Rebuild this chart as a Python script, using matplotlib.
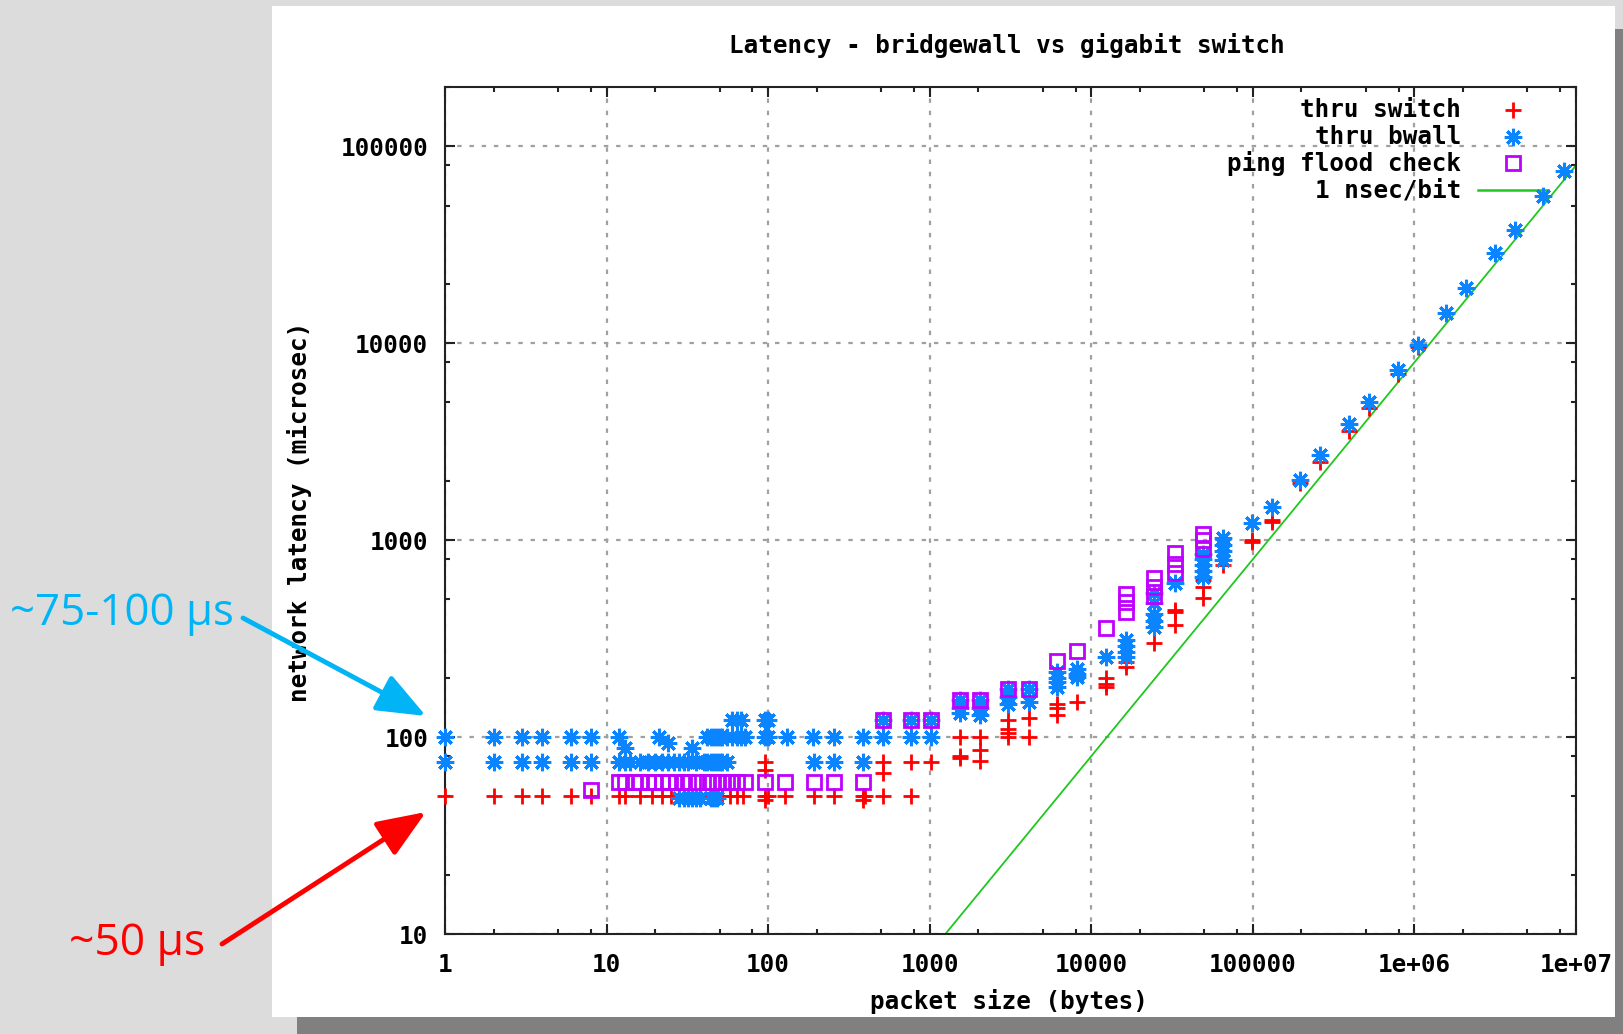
import numpy as np
import matplotlib
matplotlib.use("Agg")
import matplotlib.pyplot as plt
from matplotlib.patches import Rectangle

# ---------------- data (packet size bytes, latency microsec) ----------------
switch_pts = [
    (1, 50), (2, 50), (3, 50), (4, 50), (6, 50), (8, 50), (12, 50), (13, 50), (16, 50),
    (19, 50), (22, 50), (25, 50), (28, 50), (32, 50), (36, 50), (44, 50), (48, 50),
    (52, 50), (58, 50), (64, 50), (70, 50), (96, 50), (96, 48), (100, 50), (128, 50),
    (192, 50), (256, 50), (384, 50), (384, 48), (400, 50), (512, 50), (768, 50),
    (96, 75), (96, 68), (512, 75), (512, 66), (768, 75), (1024, 75),
    (1536, 100), (1536, 80), (1536, 78), (2048, 100), (2048, 86), (2048, 76),
    (3072, 122), (3072, 110), (3072, 105), (3072, 100), (4096, 125), (4096, 100),
    (6144, 148), (6144, 140), (6144, 130), (8192, 151),
    (12288, 199), (12288, 185), (12288, 180), (16384, 240), (16384, 227),
    (24576, 300), (32768, 442), (32768, 430), (32768, 370),
    (49152, 630), (49152, 580), (49152, 510), (65536, 750),
    (98304, 1000), (98304, 980), (131072, 1260), (131072, 1240),
    (196608, 1940), (262144, 2500), (393216, 3600), (524288, 4700),
    (786432, 7000), (1048576, 9600), (1572864, 14300),
]

bwall_pts = [
    (1, 100), (2, 100), (3, 100), (4, 100), (6, 100), (8, 100), (12, 100), (21, 100),
    (42, 100), (44, 100), (46, 100), (48, 100), (50, 100), (52, 100), (56, 100),
    (60, 100), (64, 100), (68, 100), (72, 100), (96, 100), (100, 100), (130, 100),
    (190, 100), (256, 100), (384, 100), (512, 100), (768, 100), (1024, 100),
    (1, 75), (2, 75), (3, 75), (4, 75), (6, 75), (8, 75), (12, 75), (13, 75), (14, 75),
    (16, 75), (18, 75), (20, 75), (22, 75), (24, 75), (26, 75), (28, 75), (30, 75),
    (32, 75), (36, 75), (40, 75), (42, 75), (44, 75), (46, 75), (48, 75), (50, 75),
    (52, 75), (56, 75), (192, 75), (256, 75), (384, 75),
    (13, 88), (34, 88), (24, 93),
    (28, 49), (30, 49), (32, 49), (34, 49), (36, 49), (38, 49), (44, 49), (46, 49), (48, 49),
    (60, 122), (64, 122), (68, 122), (96, 122), (100, 122), (512, 122), (768, 122), (1024, 122),
    (1536, 154), (1536, 140), (1536, 132), (2048, 154), (2048, 140), (2048, 130),
    (3072, 176), (3072, 160), (3072, 148), (4096, 176), (4096, 150),
    (6144, 215), (6144, 200), (6144, 190), (6144, 180), (8192, 222), (8192, 210), (8192, 203),
    (12288, 254), (16384, 311), (16384, 290), (16384, 270), (16384, 256),
    (24576, 537), (24576, 480), (24576, 420), (24576, 390), (24576, 363), (32768, 605),
    (49152, 855), (49152, 800), (49152, 750), (49152, 700), (49152, 650),
    (65536, 1020), (65536, 950), (65536, 880), (65536, 790),
    (98304, 1220), (131072, 1475), (196608, 2010), (262144, 2700), (393216, 3880),
    (524288, 5050), (786432, 7300), (1048576, 9800), (1572864, 14300),
    (2097152, 19100), (3145728, 28600), (4194304, 37700), (6291456, 55600), (8388608, 74500),
]

ping_pts = [
    (8, 54), (12, 59), (13, 59), (15, 59), (16, 59), (18, 59), (20, 59), (22, 59), (24, 59),
    (27, 59), (30, 59), (32, 59), (36, 59), (42, 59), (45, 59), (48, 59), (52, 59), (56, 59),
    (60, 59), (64, 59), (72, 59), (96, 59), (128, 59), (192, 59), (256, 59), (384, 59),
    (512, 122), (768, 122), (1024, 122), (1536, 154), (2048, 154), (3072, 176), (4096, 176),
    (6144, 243), (8192, 273), (12288, 356), (16384, 430), (16384, 486), (16384, 535),
    (24576, 520), (24576, 580), (24576, 640), (32768, 680), (32768, 760), (32768, 860),
    (49152, 905), (49152, 1000), (49152, 1080),
]

series_labels = ["thru switch", "thru bwall", "ping flood check", "1 nsec/bit"]
nsec_per_bit_us = 1e-3 * 8   # microseconds per byte at 1 nsec/bit

x_ticks = [1, 10, 100, 1000, 10000, 100000, 1000000, 10000000]
x_ticklabels = ["1", "10", "100", "1000", "10000", "100000", "1e+06", "1e+07"]
y_ticks = [10, 100, 1000, 10000, 100000]
y_ticklabels = ["10", "100", "1000", "10000", "100000"]

title = "Latency - bridgewall vs gigabit switch"
xlabel = "packet size (bytes)"
ylabel = "network latency (microsec)"

# ---------------- styling ----------------
W, H = 1623, 1034
RED = "#ff0000"
BLUE = "#0a84ff"
PURPLE = "#c000ff"
GREEN = "#1ec81e"
MONO = ["DejaVu Sans Mono"]
FS = 17.5

fig = plt.figure(figsize=(W / 100, H / 100), dpi=100, facecolor="#dcdcdc")

def fx(px):
    return px / W

def fy(py):
    return 1 - py / H

# drop shadow and white panel
fig.patches.append(Rectangle((fx(297), 0), fx(W - 297) + 0.01, fy(29), transform=fig.transFigure,
                             facecolor="#808080", edgecolor="none", zorder=-10))
fig.patches.append(Rectangle((fx(272), fy(1017)), fx(1615 - 272), (1017 - 6) / H,
                             transform=fig.transFigure, facecolor="white", edgecolor="none", zorder=-9))

ax = fig.add_axes([fx(445), fy(934), fx(1576 - 445), (934 - 87) / H])
ax.set_facecolor("white")
ax.set_xscale("log")
ax.set_yscale("log")
ax.set_xlim(1, 1e7)
ax.set_ylim(10, 2e5)

# 1 nsec/bit reference line
xl = np.logspace(0, 7, 400)
ax.plot(xl, xl * nsec_per_bit_us, color=GREEN, lw=1.3, zorder=2)

sx, sy = zip(*switch_pts)
bx, by = zip(*bwall_pts)
px_, py_ = zip(*ping_pts)
ax.plot(sx, sy, ls="none", marker="+", ms=11, mew=2.0, color=RED, clip_on=False, zorder=3)
ax.plot(bx, by, ls="none", marker=(8, 2, 0), ms=12.5, mew=2.2, color=BLUE, clip_on=False, zorder=4)
ax.plot(px_, py_, ls="none", marker="s", ms=10, mew=2.0, mfc="none", mec=PURPLE, clip_on=False, zorder=5)

# ticks / grid
ax.set_xticks(x_ticks)
ax.set_xticklabels(x_ticklabels)
ax.set_yticks(y_ticks)
ax.set_yticklabels(y_ticklabels)
minor_x = [m * 10 ** k for k in range(0, 7) for m in (2, 5, 8)]
minor_y = [m * 10 ** k for k in range(1, 6) for m in (2, 5, 8) if m * 10 ** k <= 2e5]
ax.set_xticks(minor_x, minor=True)
ax.set_yticks(minor_y, minor=True)
ax.tick_params(which="both", direction="in", top=True, right=True, color="#222222")
ax.tick_params(which="major", length=7.5, width=1.5, pad=12)
ax.tick_params(which="minor", length=3.8, width=1.5)
ax.tick_params(axis="x", which="major", pad=14)
ax.xaxis.set_minor_formatter(matplotlib.ticker.NullFormatter())
ax.yaxis.set_minor_formatter(matplotlib.ticker.NullFormatter())
for lab in ax.get_xticklabels() + ax.get_yticklabels():
    lab.set_fontfamily(MONO)
    lab.set_fontweight("bold")
    lab.set_fontsize(FS)
ax.grid(True, which="major", color="#a0a0a0", lw=1.6, ls=(0, (2, 3.5)))
ax.set_axisbelow(True)
for sp in ax.spines.values():
    sp.set_linewidth(1.5)
    sp.set_color("#222222")

ax.set_xlabel(xlabel, fontfamily=MONO, fontweight="bold", fontsize=FS, va="center")
ax.xaxis.set_label_coords((1009 - 445) / 1131, (934 - 1002) / 847)
ax.set_ylabel(ylabel, fontfamily=MONO, fontweight="bold", fontsize=FS, va="center")
ax.yaxis.set_label_coords((300 - 445) / 1131, (934 - 512) / 847)
fig.text(fx(1007), fy(45), title, fontfamily=MONO, fontweight="bold", fontsize=FS,
         ha="center", va="center")

# legend (gnuplot style, text right-aligned, sample to the right)
leg_rows = [(934 - 110) / 847, (934 - 137) / 847, (934 - 163) / 847, (934 - 190) / 847]
tx = (1461 - 445) / 1131
mx = (1513 - 445) / 1131
for lbl, yy in zip(series_labels, leg_rows):
    ax.text(tx, yy, lbl, transform=ax.transAxes, ha="right", va="center",
            fontfamily=MONO, fontweight="bold", fontsize=FS, zorder=6)
ax.plot([mx], [leg_rows[0]], transform=ax.transAxes, marker="+", ms=11, mew=2.0,
        color=RED, ls="none", clip_on=False)
ax.plot([mx], [leg_rows[1]], transform=ax.transAxes, marker=(8, 2, 0), ms=12.5, mew=2.2,
        color=BLUE, ls="none", clip_on=False)
ax.plot([mx], [leg_rows[2]], transform=ax.transAxes, marker="s", ms=10, mew=2.0,
        mfc="none", mec=PURPLE, ls="none", clip_on=False)
ax.plot([(1478 - 445) / 1131, (1548 - 445) / 1131], [leg_rows[3]] * 2,
        transform=ax.transAxes, color=GREEN, lw=1.8)

# annotations
CYAN = "#00b4f5"
fig.text(fx(10), fy(614), "~75-100 µs", color=CYAN, fontsize=31.5, fontfamily=["Open Sans", "DejaVu Sans"],
         ha="left", va="center")
fig.text(fx(69), fy(944), "~50 µs", color=RED, fontsize=32, fontfamily=["Open Sans", "DejaVu Sans"],
         ha="left", va="center")
arrow_kw = dict(arrowstyle="-|>,head_length=1.5,head_width=0.6", lw=3.5,
                shrinkA=0, shrinkB=0, mutation_scale=20)
ax.annotate("", xy=(426, H - 716), xycoords="figure pixels", xytext=(243, H - 618),
            textcoords="figure pixels", arrowprops=dict(color=CYAN, **arrow_kw), annotation_clip=False)
ax.annotate("", xy=(426, H - 812), xycoords="figure pixels", xytext=(222, H - 944),
            textcoords="figure pixels", arrowprops=dict(color=RED, **arrow_kw), annotation_clip=False)

fig.savefig("out.png", dpi=100, facecolor=fig.get_facecolor())
